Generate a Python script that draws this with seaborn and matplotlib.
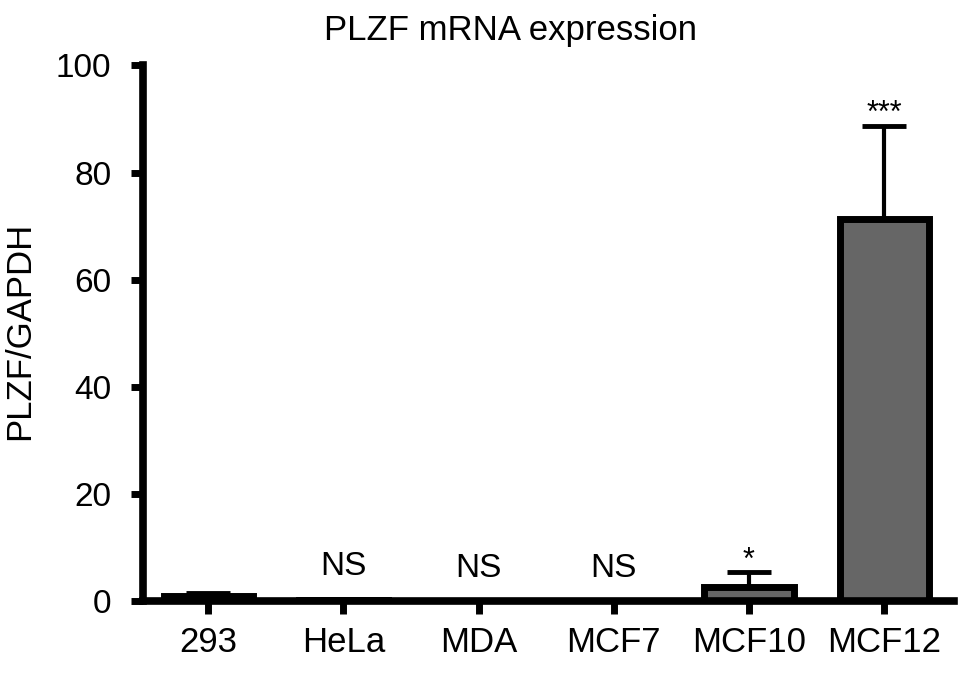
import matplotlib
matplotlib.use("Agg")
from matplotlib import pyplot as plt
import pandas as pd
import seaborn as sns

cell_lines = ['293', 'HeLa', 'MDA', 'MCF7', 'MCF10', 'MCF12']
mean_expr = [1.0, 0.3, 0.05, 0.05, 2.6, 71.3]
sem_expr = [0.5, 0.1, 0.0, 0.0, 2.8, 17.4]
sig_labels = ['', 'NS', 'NS', 'NS', '*', '***']

df = pd.DataFrame({'Cell line': cell_lines, 'PLZF/GAPDH': mean_expr})

#styling
sns.set_style("ticks")
plt.rcParams['font.family'] = ['Liberation Sans', 'DejaVu Sans']
plt.rcParams['text.color'] = 'black'
plt.rcParams['axes.labelcolor'] = 'black'
plt.rcParams['xtick.color'] = 'black'
plt.rcParams['ytick.color'] = 'black'

f, ax = plt.subplots(figsize=(9.69, 6.74), dpi=100)
f.subplots_adjust(left=0.148, right=0.985, bottom=0.108, top=0.903)

ax = sns.barplot(data=df, x='Cell line', y='PLZF/GAPDH', color='#666666',
                 saturation=1, width=0.66, edgecolor='black', linewidth=5,
                 errorbar=None, ax=ax)

#one-sided error bars
ax.errorbar(range(len(cell_lines)), mean_expr,
            yerr=[[0] * len(sem_expr), sem_expr], fmt='none',
            ecolor='black', elinewidth=3, capsize=16, capthick=3.5)

for i, lab in enumerate(sig_labels):
    if lab == '':
        continue
    y = mean_expr[i] + sem_expr[i]
    if lab == 'NS':
        ax.text(i, y + 3.2, lab, ha='center', va='bottom', fontsize=24)
    else:
        ax.text(i, y - 0.6, lab, ha='center', va='bottom', fontsize=22)

ax.set_xlim(-0.48, 5.52)
ax.set_ylim(0, 100)
ax.set_yticks([0, 20, 40, 60, 80, 100])
ax.set_title("PLZF mRNA expression", fontsize=25, pad=18, x=0.452)
ax.set_xlabel('')
ax.set_ylabel('PLZF/GAPDH', fontsize=25)
ax.yaxis.set_label_coords(-0.132, 0.505)
ax.tick_params(axis='both', width=5, length=9)
ax.tick_params(axis='x', labelsize=25, pad=9)
ax.tick_params(axis='y', labelsize=24, pad=14)
for s in ['left', 'bottom']:
    ax.spines[s].set_linewidth(5.5)
    ax.spines[s].set_color('black')
sns.despine(ax=ax)

plt.savefig('out.png', dpi=100)
